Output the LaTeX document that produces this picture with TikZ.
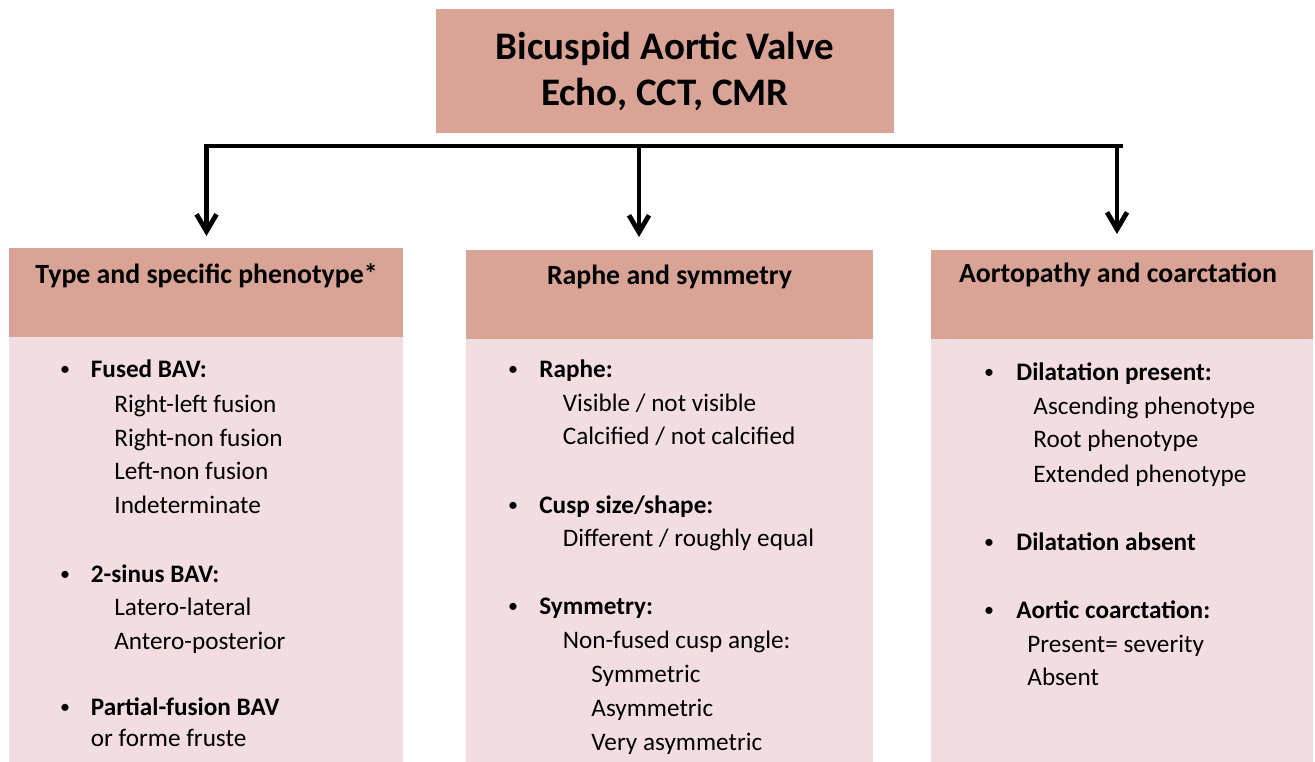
\documentclass[tikz,border=0pt]{standalone}
\usepackage{fontspec}
\setmainfont{Carlito}
\usepackage{tikz}
\usetikzlibrary{arrows.meta}
\usepackage{xcolor}

\definecolor{salmon}{RGB}{217,163,150}
\definecolor{blush}{RGB}{242,221,227}

\tikzset{
  headbox/.style={fill=salmon, draw=none, inner sep=0},
  bodybox/.style={fill=blush, draw=none, inner sep=0},
  link/.style={line width=2.4pt},
  arrow/.style={link, -{Straight Barb[length=8.5pt, width=10pt]}},
  headtxt/.style={anchor=base, inner sep=0, font=\fontsize{13.9}{17}\selectfont\bfseries},
  lead/.style={anchor=base west, inner sep=0, font=\fontsize{12.6}{15}\selectfont\bfseries},
  item/.style={anchor=base west, inner sep=0, font=\fontsize{12.6}{15}\selectfont},
  dot/.style={anchor=base, inner sep=0, font=\fontsize{10}{12}\selectfont}
}

\begin{document}
\begin{tikzpicture}[x=0.5pt, y=-0.5pt]
    \useasboundingbox (0,0) rectangle (1315,761);

    % Title
    \node[headbox, minimum width=229pt, minimum height=62pt, align=center,
          font=\fontsize{19.5}{23}\selectfont\bfseries] (title) at (665,71)
          {Bicuspid Aortic Valve\\Echo, CCT, CMR};

    % Column boxes
    \node[headbox, minimum width=197pt, minimum height=44.5pt] (headL) at (206,292) {};
    \node[bodybox, minimum width=197pt, minimum height=212.5pt] (bodyL) at (206,549) {};
    \node[headbox, minimum width=203.5pt, minimum height=44.5pt] (headM) at (669.5,294) {};
    \node[bodybox, minimum width=203.5pt, minimum height=211.5pt] (bodyM) at (669.5,550) {};
    \node[headbox, minimum width=191pt, minimum height=44.5pt] (headR) at (1122,294) {};
    \node[bodybox, minimum width=191pt, minimum height=211.5pt] (bodyR) at (1122,550) {};

    \node[headtxt] (headLtxt) at (206.5,283) {Type and specific phenotype*};
    \node[headtxt] (headMtxt) at (669.5,284) {Raphe and symmetry};
    \node[headtxt] (headRtxt) at (1118,282) {Aortopathy and coarctation};

    % Connectors
    \coordinate (barL) at (204,146);
    \coordinate (barR) at (1122.5,146);
    \coordinate (tipL) at (206.5,236);
    \coordinate (tipM) at (639,237);
    \coordinate (tipR) at (1117,234);
    \draw[link] (barL) -- (barR);
    \draw[arrow] (barL -| tipL) -- (tipL);
    \draw[arrow] (barL -| tipM) -- (tipM);
    \draw[arrow] (barL -| tipR) -- (tipR);

    % Left column
    \node[dot] (dotL1) at (65,375) {\textbullet};
    \node[lead] (fused) at (90.5,377) {Fused BAV:};
    \node[item] (rl) at (114,412) {Right-left fusion};
    \node[item] (rn) at (114,446) {Right-non fusion};
    \node[item] (ln) at (114,479) {Left-non fusion};
    \node[item] (ind) at (114,513) {Indeterminate};
    \node[dot] (dotL2) at (65,580) {\textbullet};
    \node[lead] (sinus) at (90.5,582) {2-sinus BAV:};
    \node[item] (latero) at (114,615) {Latero-lateral};
    \node[item] (antero) at (114,649) {Antero-posterior};
    \node[dot] (dotL3) at (65,713) {\textbullet};
    \node[lead] (partial) at (90.5,715) {Partial-fusion BAV};
    \node[item] (fruste) at (90.5,746) {or forme fruste};

    % Middle column
    \node[dot] (dotM1) at (513,375) {\textbullet};
    \node[lead] (raphe) at (539,377) {Raphe:};
    \node[item] (visible) at (562.5,411) {Visible / not visible};
    \node[item] (calc) at (562.5,444) {Calcified / not calcified};
    \node[dot] (dotM2) at (513,511) {\textbullet};
    \node[lead] (cusp) at (539,513) {Cusp size/shape:};
    \node[item] (diff) at (562.5,546) {Different / roughly equal};
    \node[dot] (dotM3) at (513,612) {\textbullet};
    \node[lead] (symm) at (539,614) {Symmetry:};
    \node[item] (angle) at (562.5,648) {Non-fused cusp angle:};
    \node[item] (sym) at (591,682) {Symmetric};
    \node[item] (asym) at (591,716) {Asymmetric};
    \node[item] (vasym) at (591,750) {Very asymmetric};

    % Right column
    \node[dot] (dotR1) at (989,378) {\textbullet};
    \node[lead] (dilp) at (1016,380) {Dilatation present:};
    \node[item] (asc) at (1033,414) {Ascending phenotype};
    \node[item] (root) at (1033,447) {Root phenotype};
    \node[item] (ext) at (1033,482) {Extended phenotype};
    \node[dot] (dotR2) at (989,548) {\textbullet};
    \node[lead] (dila) at (1016,550) {Dilatation absent};
    \node[dot] (dotR3) at (989,616) {\textbullet};
    \node[lead] (coarc) at (1016,618) {Aortic coarctation:};
    \node[item] (pres) at (1027,652) {Present= severity};
    \node[item] (abs) at (1027,685) {Absent};
\end{tikzpicture}
\end{document}
